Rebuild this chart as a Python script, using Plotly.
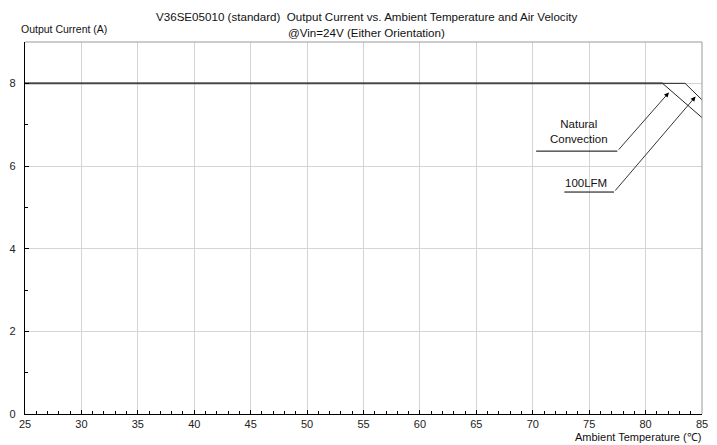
import plotly.graph_objects as go

# data
nat_x = [25, 81.5, 85]
nat_y = [8, 8, 7.17]
lfm_x = [25, 83.5, 85]
lfm_y = [8, 8, 7.6]

x_ticks = [25, 30, 35, 40, 45, 50, 55, 60, 65, 70, 75, 80, 85]
y_ticks = [0, 2, 4, 6, 8]

# labels with leader lines: text, text pos, underline start, underline end, arrow tip
labels = ["Natural<br>Convection", "100LFM"]
label_x = [74.1, 74.7]
label_y = [6.84, 5.58]
under_x0 = [70.3, 72.8]
under_x1 = [77.5, 77.2]
under_y = [6.36, 5.37]
tip_x = [82.07, 84.43]
tip_y = [7.78, 7.68]

FONT = "Liberation Sans, Arial, sans-serif"

fig = go.Figure()
fig.add_trace(go.Scatter(x=nat_x, y=nat_y, mode="lines",
                         line=dict(color="#222", width=1), showlegend=False))
fig.add_trace(go.Scatter(x=lfm_x, y=lfm_y, mode="lines",
                         line=dict(color="#222", width=1), showlegend=False))
# thicker flat part overlay
fig.add_trace(go.Scatter(x=nat_x[:2], y=nat_y[:2], mode="lines",
                         line=dict(color="#444", width=1.6), showlegend=False))

for i in range(len(labels)):
    fig.add_trace(go.Scatter(x=[under_x0[i], under_x1[i]], y=[under_y[i], under_y[i]],
                             mode="lines", line=dict(color="#000", width=1),
                             showlegend=False))
    fig.add_annotation(x=tip_x[i], y=tip_y[i], ax=under_x1[i], ay=under_y[i],
                       xref="x", yref="y", axref="x", ayref="y", text="",
                       showarrow=True, arrowhead=2, arrowsize=1.2, arrowwidth=0.8,
                       arrowcolor="#000")
    fig.add_annotation(x=label_x[i], y=label_y[i], xref="x", yref="y",
                       text=labels[i], showarrow=False,
                       font=dict(family=FONT, size=11.5, color="#111"))

fig.add_annotation(xref="paper", yref="paper", x=0.505, y=1.0, yshift=26,
                   xanchor="center", yanchor="middle", showarrow=False,
                   text="V36SE05010 (standard)  Output Current vs. Ambient Temperature and Air Velocity",
                   font=dict(family=FONT, size=11.6, color="#111"))
fig.add_annotation(xref="paper", yref="paper", x=0.505, y=1.0, yshift=10,
                   xanchor="center", yanchor="middle", showarrow=False,
                   text="@Vin=24V (Either Orientation)",
                   font=dict(family=FONT, size=11.6, color="#111"))
fig.add_annotation(xref="paper", yref="paper", x=0.0, y=1.0, xshift=-6, yshift=13,
                   xanchor="left", yanchor="middle", showarrow=False,
                   text="Output Current (A)",
                   font=dict(family=FONT, size=10.5, color="#111"))
fig.add_annotation(xref="paper", yref="paper", x=1.0, y=0.0, yshift=-23, xshift=1,
                   xanchor="right", yanchor="middle", showarrow=False,
                   text="Ambient Temperature (℃)",
                   font=dict(family=FONT, size=11, color="#111"))

# top and right border (grey)
fig.add_shape(type="line", xref="paper", yref="paper", x0=0, x1=1, y0=1, y1=1,
              line=dict(color="#999", width=1))
fig.add_shape(type="line", xref="paper", yref="paper", x0=1, x1=1, y0=0, y1=1,
              line=dict(color="#999", width=1))

fig.update_xaxes(range=[25, 85], tickvals=x_ticks, ticktext=[str(v) for v in x_ticks],
                 automargin=False,
                 showgrid=True, gridcolor="#d4d4d4", gridwidth=1,
                 showline=True, linecolor="#000", linewidth=1.2,
                 ticks="inside", ticklen=4, tickcolor="#000",
                 minor=dict(dtick=1, ticks="inside", ticklen=3, tickcolor="#000", showgrid=False),
                 zeroline=False, tickfont=dict(family=FONT, size=11, color="#222"))
fig.update_yaxes(range=[0, 9], tickvals=y_ticks, ticktext=[str(v) for v in y_ticks],
                 automargin=False, ticklabelstandoff=6,
                 showgrid=True, gridcolor="#d4d4d4", gridwidth=1,
                 showline=True, linecolor="#000", linewidth=1.2,
                 ticks="inside", ticklen=4, tickcolor="#000",
                 minor=dict(dtick=1, ticks="inside", ticklen=3, tickcolor="#000", showgrid=False),
                 zeroline=False, tickfont=dict(family=FONT, size=11, color="#222"))

# page body has an 8px offset: size figure to fill the rest of the window
fig.update_layout(width=709, height=437, margin=dict(l=16.5, r=14.5, t=33.5, b=30.5),
                  plot_bgcolor="white", paper_bgcolor="white", showlegend=False)

fig.write_html("out.html")
